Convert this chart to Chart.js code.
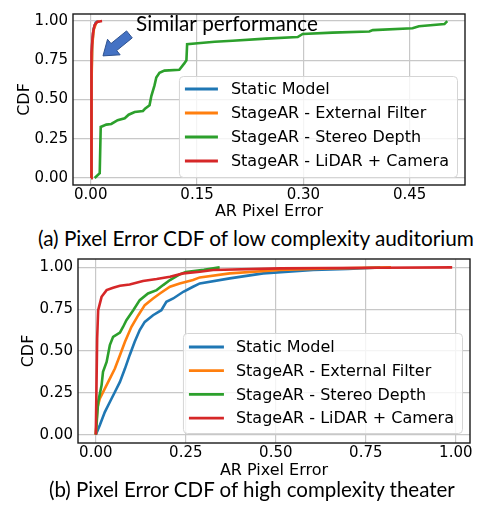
<!DOCTYPE html>
<html><head><meta charset="utf-8">
<script src="https://cdn.jsdelivr.net/npm/chart.js@4.4.1/dist/chart.umd.min.js"></script>
<style>
html,body{margin:0;padding:0;background:#fff;}
#wrap{position:relative;width:478px;height:508px;overflow:hidden;background:#fff;}
.box{position:absolute;left:0;width:478px;}
.cap{position:absolute;font-family:Lato,'Open Sans',sans-serif;color:#000;white-space:nowrap;line-height:1;display:inline-block;}
</style></head><body>
<div id="wrap">
  <div class="box" style="top:0;height:225px"><canvas id="chartA" width="478" height="225"></canvas></div>
  <div class="cap" id="capA">(a) Pixel Error CDF of low complexity auditorium</div>
  <div class="box" style="top:245px;height:235px"><canvas id="chartB" width="478" height="235"></canvas></div>
  <div class="cap" id="capB">(b) Pixel Error CDF of high complexity theater</div>
</div>
<script>
// ---------- DATA ----------
const seriesNames = ["Static Model", "StageAR - External Filter", "StageAR - Stereo Depth", "StageAR - LiDAR + Camera"];
const seriesColors = ["#1f77b4", "#ff7f0e", "#2ca02c", "#d62728"];

// (a) low complexity auditorium
const staticA_x   = [0.0005, 0.0008, 0.0012, 0.002, 0.004, 0.007, 0.0105];
const staticA_y   = [0, 0.3, 0.6, 0.85, 0.95, 0.99, 1.0];
const externalA_x = [0.0005, 0.0009, 0.0013, 0.0022, 0.0045, 0.008, 0.012];
const externalA_y = [0, 0.3, 0.6, 0.85, 0.95, 0.99, 1.0];
const stereoA_x   = [0.0056, 0.0127, 0.0141, 0.022, 0.029, 0.038, 0.048, 0.0535, 0.062, 0.0737, 0.077, 0.083, 0.0855, 0.090, 0.0925, 0.097, 0.104, 0.125, 0.132, 0.135, 0.136, 0.151, 0.175, 0.2, 0.247, 0.292, 0.299, 0.341, 0.393, 0.398, 0.454, 0.463, 0.499, 0.503];
const stereoA_y   = [0.0, 0.03, 0.325, 0.34, 0.344, 0.368, 0.38, 0.403, 0.42, 0.427, 0.443, 0.463, 0.522, 0.59, 0.64, 0.67, 0.684, 0.69, 0.73, 0.75, 0.853, 0.859, 0.868, 0.874, 0.888, 0.898, 0.918, 0.926, 0.933, 0.942, 0.954, 0.967, 0.981, 1.0];
const lidarA_x    = [0.0005, 0.0007, 0.001, 0.0015, 0.003, 0.0055, 0.009, 0.016];
const lidarA_y    = [0, 0.3, 0.6, 0.8, 0.92, 0.975, 0.995, 1.0];

// (b) high complexity theater
const staticB_x   = [0, 0.011, 0.025, 0.039, 0.053, 0.067, 0.081, 0.094, 0.108, 0.122, 0.136, 0.159, 0.182, 0.196, 0.215, 0.243, 0.27, 0.289, 0.372, 0.465, 0.604, 0.70, 0.79];
const staticB_y   = [0, 0.056, 0.135, 0.195, 0.255, 0.315, 0.395, 0.475, 0.555, 0.625, 0.674, 0.714, 0.744, 0.794, 0.814, 0.854, 0.884, 0.904, 0.934, 0.964, 0.984, 0.99, 1.0];
const externalB_x = [0, 0.004, 0.011, 0.025, 0.039, 0.053, 0.067, 0.081, 0.099, 0.118, 0.136, 0.159, 0.178, 0.206, 0.233, 0.27, 0.289, 0.372, 0.511, 0.65, 0.82];
const externalB_y = [0, 0.156, 0.215, 0.275, 0.335, 0.395, 0.475, 0.555, 0.645, 0.714, 0.774, 0.814, 0.844, 0.884, 0.904, 0.924, 0.94, 0.964, 0.984, 0.993, 1.0];
const stereoB_x   = [0, 0.0065, 0.016, 0.02, 0.03, 0.039, 0.048, 0.067, 0.076, 0.085, 0.104, 0.122, 0.145, 0.169, 0.187, 0.206, 0.233, 0.25, 0.3, 0.344];
const stereoB_y   = [0, 0.195, 0.295, 0.375, 0.435, 0.535, 0.585, 0.61, 0.645, 0.684, 0.744, 0.804, 0.844, 0.864, 0.894, 0.924, 0.958, 0.972, 0.985, 1.0];
const lidarB_x    = [0, 0.0037, 0.0065, 0.016, 0.03, 0.048, 0.067, 0.094, 0.131, 0.169, 0.206, 0.243, 0.289, 0.326, 0.511, 0.789, 0.99];
const lidarB_y    = [0, 0.575, 0.744, 0.824, 0.864, 0.878, 0.89, 0.898, 0.918, 0.93, 0.944, 0.964, 0.974, 0.984, 0.994, 0.998, 1.0];

// ticks
const ticksAx = [0, 0.15, 0.30, 0.45];
const ticksBx = [0, 0.25, 0.50, 0.75, 1.00];
const ticksY  = [0, 0.25, 0.50, 0.75, 1.00];

// annotation (chart a)
const annotText = "Similar performance";

// ---------- HELPERS ----------
function pts(xs, ys){ return xs.map((x,i)=>({x:x, y:ys[i]})); }
function makeDatasets(list){
  return list.map((p,i)=>({
    label: seriesNames[i],
    data: pts(p[0], p[1]),
    borderColor: seriesColors[i],
    backgroundColor: seriesColors[i],
    borderWidth: 2.6,
    pointRadius: 0,
    showLine: true,
    tension: 0,
    order: 4 - i
  }));
}

const frameAndLegend = {
  id: 'frameAndLegend',
  afterDatasetsDraw(chart, args, opts){
    const ctx = chart.ctx, a = chart.chartArea;
    // annotation
    if (opts.arrow){
      const xs = chart.scales.x, ys = chart.scales.y;
      const tip = [xs.getPixelForValue(opts.arrow.tip[0]), ys.getPixelForValue(opts.arrow.tip[1])];
      const tail = [xs.getPixelForValue(opts.arrow.tail[0]), ys.getPixelForValue(opts.arrow.tail[1])];
      const dx = tip[0]-tail[0], dy = tip[1]-tail[1], L = Math.hypot(dx,dy);
      const ux = dx/L, uy = dy/L, nx = -uy, ny = ux;
      const hl = 14, hw = 10, sw = 4.5;
      const bx = tip[0]-ux*hl, by = tip[1]-uy*hl;
      ctx.save();
      ctx.beginPath();
      ctx.moveTo(tail[0]+nx*sw, tail[1]+ny*sw);
      ctx.lineTo(bx+nx*sw, by+ny*sw);
      ctx.lineTo(bx+nx*hw, by+ny*hw);
      ctx.lineTo(tip[0], tip[1]);
      ctx.lineTo(bx-nx*hw, by-ny*hw);
      ctx.lineTo(bx-nx*sw, by-ny*sw);
      ctx.lineTo(tail[0]-nx*sw, tail[1]-ny*sw);
      ctx.closePath();
      ctx.fillStyle = '#4472c4';
      ctx.fill();
      ctx.lineWidth = 1;
      ctx.strokeStyle = '#2f528f';
      ctx.stroke();
      // text
      const tx = xs.getPixelForValue(opts.text.pos[0]), ty = ys.getPixelForValue(opts.text.pos[1]);
      ctx.font = '20px Lato';
      const w = ctx.measureText(opts.text.str).width;
      const fs = 20 * opts.text.width / w;
      ctx.font = fs + 'px Lato';
      ctx.fillStyle = '#000';
      ctx.textAlign = 'left';
      ctx.textBaseline = 'middle';
      ctx.fillText(opts.text.str, tx, ty);
      ctx.restore();
    }
    // legend
    const lg = opts.legend;
    ctx.save();
    ctx.font = '16px "DejaVu Sans"';
    let maxW = 0;
    chart.data.datasets.forEach(d=>{ maxW = Math.max(maxW, ctx.measureText(d.label).width); });
    const bw = lg.textX + maxW + 8, bh = lg.height;
    const bxr = a.right - lg.right, byb = a.bottom - lg.bottom;
    const bl = bxr - bw, bt = byb - bh;
    ctx.beginPath();
    if (ctx.roundRect) ctx.roundRect(bl+0.5, bt+0.5, bw, bh, 4); else ctx.rect(bl+0.5, bt+0.5, bw, bh);
    ctx.fillStyle = 'rgba(255,255,255,0.8)';
    ctx.fill();
    ctx.strokeStyle = '#d5d5d5';
    ctx.lineWidth = 1;
    ctx.stroke();
    ctx.textBaseline = 'middle';
    ctx.textAlign = 'left';
    chart.data.datasets.forEach((d,i)=>{
      const yy = bt + lg.first + i*lg.step;
      ctx.beginPath();
      ctx.moveTo(bl + lg.h0, yy); ctx.lineTo(bl + lg.h1, yy);
      ctx.strokeStyle = d.borderColor; ctx.lineWidth = 2.8; ctx.stroke();
      ctx.fillStyle = '#000';
      ctx.fillText(d.label, bl + lg.textX, yy + 1);
    });
    ctx.restore();
    // frame
    ctx.save();
    ctx.strokeStyle = '#1a1a1a';
    ctx.lineWidth = 1.4;
    ctx.strokeRect(a.left, a.top, a.right-a.left, a.bottom-a.top);
    ctx.restore();
  }
};

function makeOptions(cfg){
  return {
    responsive: false,
    animation: false,
    layout: { padding: cfg.padding },
    plugins: {
      legend: { display: false },
      tooltip: { enabled: false },
      frameAndLegend: cfg.plugin
    },
    scales: {
      x: {
        type: 'linear', min: cfg.xmin, max: cfg.xmax,
        afterBuildTicks: s => { s.ticks = cfg.xticks.map(v=>({value:v})); },
        afterFit: s => { s.height = cfg.xh; },
        ticks: { color:'#000', font:{family:'DejaVu Sans', size:15}, padding: 1, maxRotation:0, autoSkip:false,
                 callback: v => Number(v).toFixed(2) },
        grid: { color:'#c8c8c8', lineWidth:1.2, drawTicks:false },
        border: { display:false },
        title: { display:true, text:'AR Pixel Error', color:'#000', font:{family:'DejaVu Sans', size:16}, padding:{top:0, bottom:cfg.xtpad} }
      },
      y: {
        type: 'linear', min: cfg.ymin, max: cfg.ymax,
        afterBuildTicks: s => { s.ticks = ticksY.map(v=>({value:v})); },
        afterFit: s => { s.width = cfg.yw; },
        ticks: { color:'#000', font:{family:'DejaVu Sans', size:15}, padding: 5, autoSkip:false,
                 callback: v => Number(v).toFixed(2) },
        grid: { color:'#c8c8c8', lineWidth:1.2, drawTicks:false },
        border: { display:false },
        title: { display:true, text:'CDF', color:'#000', font:{family:'DejaVu Sans', size:16}, padding:{top:cfg.ytpad, bottom:0} }
      }
    }
  };
}

new Chart(document.getElementById('chartA'), {
  type: 'scatter',
  data: { datasets: makeDatasets([[staticA_x, staticA_y],[externalA_x, externalA_y],[stereoA_x, stereoA_y],[lidarA_x, lidarA_y]]) },
  options: makeOptions({
    padding: {top:2, right:13, left:0, bottom:0},
    xmin: -0.025, xmax: 0.528, ymin: -0.045, ymax: 1.045,
    xticks: ticksAx, xh: 40, yw: 73, xtpad: 4, ytpad: 15,
    plugin: {
      legend: { right: 8, bottom: 8, height: 101, first: 13, step: 24, h0: 6, h1: 39, textX: 52 },
      arrow: { tip: [0.0173, 0.778], tail: [0.0546, 0.915] },
      text: { str: annotText, pos: [0.064, 0.982], width: 182 }
    }
  }),
  plugins: [frameAndLegend]
});

new Chart(document.getElementById('chartB'), {
  type: 'scatter',
  data: { datasets: makeDatasets([[staticB_x, staticB_y],[externalB_x, externalB_y],[stereoB_x, stereoB_y],[lidarB_x, lidarB_y]]) },
  options: makeOptions({
    padding: {top:14, right:8, left:0, bottom:0},
    xmin: -0.0495, xmax: 1.0395, ymin: -0.05, ymax: 1.05,
    xticks: ticksBx, xh: 37, yw: 78, xtpad: 0, ytpad: 19,
    plugin: {
      legend: { right: 8, bottom: 10, height: 100, first: 14, step: 23.7, h0: 6, h1: 41, textX: 53 }
    }
  }),
  plugins: [frameAndLegend]
});

// captions
function placeCap(id, left, width, cy){
  const el = document.getElementById(id);
  el.style.fontSize = '20px';
  const w = el.getBoundingClientRect().width;
  const fs = 20 * width / w;
  el.style.fontSize = fs + 'px';
  const h = el.getBoundingClientRect().height;
  el.style.left = left + 'px';
  el.style.top = (cy - h/2) + 'px';
}
placeCap('capA', 38, 436, 238);
placeCap('capB', 49, 406, 489);
</script>
</body></html>
